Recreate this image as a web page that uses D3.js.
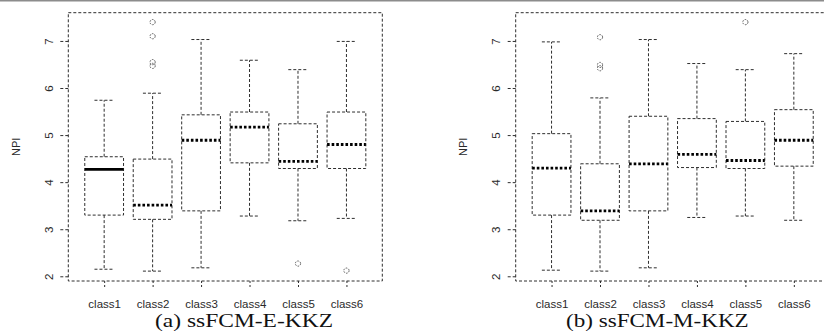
<!DOCTYPE html>
<html>
<head>
<meta charset="utf-8">
<script src="https://cdn.jsdelivr.net/npm/d3@7/dist/d3.min.js"></script>
<style>
  html, body { margin: 0; padding: 0; background: #fff; }
  svg { display: block; }
</style>
</head>
<body>
<svg id="chart" width="824" height="334"></svg>
<script>
// ---------- data ----------
const categories = ["class1", "class2", "class3", "class4", "class5", "class6"];
const yTicks = [2, 3, 4, 5, 6, 7];
const yLabel = "NPI";

// (a) ssFCM-E-KKZ
const aCaption = "(a) ssFCM-E-KKZ";
const aLowerWhisker = [2.15, 2.11, 2.18, 3.28, 3.18, 3.23];
const aQ1           = [3.30, 3.21, 3.39, 4.41, 4.29, 4.29];
const aMedian       = [4.27, 3.51, 4.89, 5.17, 4.44, 4.80];
const aQ3           = [4.54, 4.49, 5.43, 5.49, 5.24, 5.49];
const aUpperWhisker = [5.74, 5.89, 7.03, 6.59, 6.39, 6.99];
const aOutliers     = [[], [7.40, 7.10, 6.55, 6.47], [], [], [2.27], [2.12]];
const aSolidMedian  = [true, false, false, false, false, false];

// (b) ssFCM-M-KKZ
const bCaption = "(b) ssFCM-M-KKZ";
const bLowerWhisker = [2.13, 2.11, 2.18, 3.25, 3.28, 3.19];
const bQ1           = [3.30, 3.19, 3.39, 4.31, 4.29, 4.34];
const bMedian       = [4.30, 3.39, 4.39, 4.59, 4.46, 4.89];
const bQ3           = [5.03, 4.39, 5.40, 5.35, 5.29, 5.54];
const bUpperWhisker = [6.98, 5.79, 7.03, 6.52, 6.39, 6.73];
const bOutliers     = [[], [7.08, 6.49, 6.42], [], [], [7.40], []];
const bSolidMedian  = [false, false, false, false, false, false];

// ---------- drawing ----------
const svg = d3.select("#chart");
const INK = "#2e2e2e";
const DASH = "3,2";
const FONT = "'Liberation Sans', Arial, Helvetica, sans-serif";

// thin grey rule at the very top
svg.append("line")
  .attr("x1", 0).attr("x2", 824).attr("y1", 0.75).attr("y2", 0.75)
  .attr("stroke", "#8c8c8c").attr("stroke-width", 1.5);

function panel(opts) {
  const {left, right, top, bottom, lo, q1, med, q3, hi, outl, solid, caption, capX0, capX1} = opts;
  const g = svg.append("g");

  const x = d3.scaleLinear().domain([0.26, 6.74]).range([left, right]);
  const y = d3.scaleLinear().domain([1.9, 7.6]).range([bottom, top]);
  const boxW = 0.8 * (x(2) - x(1));
  const stapleW = boxW / 2;

  const rows = categories.map((c, i) => ({
    c, i, lo: lo[i], q1: q1[i], med: med[i], q3: q3[i], hi: hi[i],
    out: outl[i], solid: solid[i]
  }));

  // frame
  g.append("rect")
    .attr("x", left).attr("y", top)
    .attr("width", right - left).attr("height", bottom - top)
    .attr("fill", "none").attr("stroke", INK).attr("stroke-width", 1)
    .attr("stroke-dasharray", DASH);

  const box = g.selectAll("g.box").data(rows).join("g").attr("class", "box");

  // whiskers
  box.append("line")
    .attr("x1", d => x(d.i + 1)).attr("x2", d => x(d.i + 1))
    .attr("y1", d => y(d.q3)).attr("y2", d => y(d.hi))
    .attr("stroke", INK).attr("stroke-dasharray", DASH);
  box.append("line")
    .attr("x1", d => x(d.i + 1)).attr("x2", d => x(d.i + 1))
    .attr("y1", d => y(d.q1)).attr("y2", d => y(d.lo))
    .attr("stroke", INK).attr("stroke-dasharray", DASH);
  // staples
  box.append("line")
    .attr("x1", d => x(d.i + 1) - stapleW / 2).attr("x2", d => x(d.i + 1) + stapleW / 2)
    .attr("y1", d => y(d.hi)).attr("y2", d => y(d.hi))
    .attr("stroke", INK).attr("stroke-dasharray", DASH);
  box.append("line")
    .attr("x1", d => x(d.i + 1) - stapleW / 2).attr("x2", d => x(d.i + 1) + stapleW / 2)
    .attr("y1", d => y(d.lo)).attr("y2", d => y(d.lo))
    .attr("stroke", INK).attr("stroke-dasharray", DASH);
  // box
  box.append("rect")
    .attr("x", d => x(d.i + 1) - boxW / 2)
    .attr("y", d => y(d.q3))
    .attr("width", boxW)
    .attr("height", d => y(d.q1) - y(d.q3))
    .attr("fill", "none").attr("stroke", INK).attr("stroke-dasharray", DASH);
  // median
  box.append("line")
    .attr("x1", d => x(d.i + 1) - boxW / 2).attr("x2", d => x(d.i + 1) + boxW / 2)
    .attr("y1", d => y(d.med)).attr("y2", d => y(d.med))
    .attr("stroke", "#000").attr("stroke-width", 2.8)
    .attr("stroke-dasharray", d => d.solid ? null : "2.6,2");
  // outliers
  box.selectAll("circle")
    .data(d => d.out.map(v => ({i: d.i, v})))
    .join("circle")
    .attr("cx", d => x(d.i + 1)).attr("cy", d => y(d.v)).attr("r", 2.6)
    .attr("fill", "none").attr("stroke", "#333").attr("stroke-width", 0.8)
    .attr("stroke-dasharray", "1.6,1.2");

  // y axis
  const yAxis = g.append("g")
    .attr("transform", `translate(${left},0)`)
    .call(d3.axisLeft(y).tickValues(yTicks).tickSize(9).tickPadding(0).tickFormat(d3.format("d")));
  yAxis.select(".domain").remove();
  yAxis.selectAll(".tick line").attr("stroke", INK).attr("stroke-dasharray", DASH);
  yAxis.selectAll(".tick text")
    .attr("x", 0).attr("dy", null)
    .attr("transform", "translate(-19.5,0) rotate(-90)")
    .attr("text-anchor", "middle")
    .attr("dominant-baseline", "central")
    .attr("fill", "#2a2a2a")
    .style("font-family", FONT).style("font-size", "11.5px");

  // x axis
  const xAxis = g.append("g")
    .attr("transform", `translate(0,${bottom})`)
    .call(d3.axisBottom(x).tickValues(categories.map((c, i) => i + 1))
      .tickSize(8).tickPadding(0).tickFormat(v => categories[v - 1]));
  xAxis.select(".domain").remove();
  xAxis.selectAll(".tick line").attr("stroke", INK).attr("stroke-dasharray", "2,2");
  xAxis.selectAll(".tick text")
    .attr("y", 27).attr("dy", null)
    .attr("fill", "#2a2a2a")
    .style("font-family", FONT).style("font-size", "11.5px");

  // y label
  g.append("text")
    .attr("transform", `translate(${left - 52.5},${(top + bottom) / 2}) rotate(-90)`)
    .attr("text-anchor", "middle").attr("dominant-baseline", "central")
    .attr("fill", "#2a2a2a")
    .style("font-family", FONT).style("font-size", "11px")
    .text(yLabel);

  // caption
  g.append("text")
    .attr("x", capX0).attr("y", 326.5)
    .attr("textLength", capX1 - capX0).attr("lengthAdjust", "spacingAndGlyphs")
    .attr("fill", "#111")
    .style("font-family", "'Liberation Serif', 'Times New Roman', serif")
    .style("font-size", "18.5px")
    .text(caption);
}

panel({left: 68.3, right: 382.3, top: 12.7, bottom: 281,
  lo: aLowerWhisker, q1: aQ1, med: aMedian, q3: aQ3, hi: aUpperWhisker,
  outl: aOutliers, solid: aSolidMedian, caption: aCaption, capX0: 155, capX1: 333});

panel({left: 515.7, right: 829.7, top: 12.7, bottom: 281,
  lo: bLowerWhisker, q1: bQ1, med: bMedian, q3: bQ3, hi: bUpperWhisker,
  outl: bOutliers, solid: bSolidMedian, caption: bCaption, capX0: 566, capX1: 748.7});
</script>
</body>
</html>
